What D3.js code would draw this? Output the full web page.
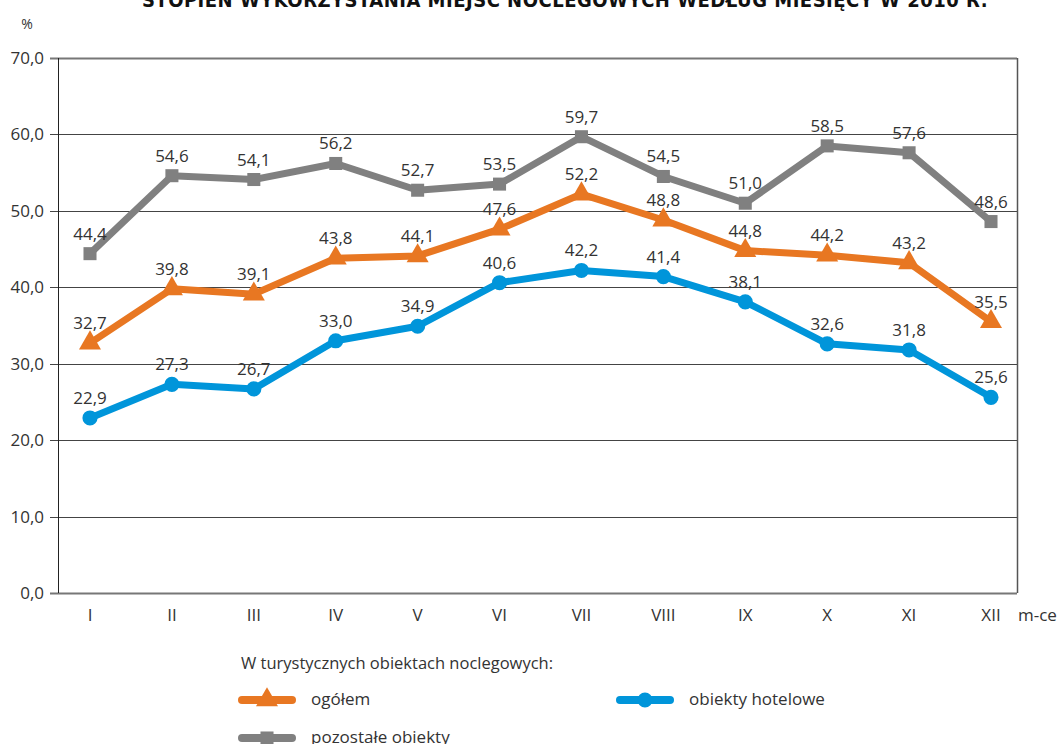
<!DOCTYPE html>
<html>
<head>
<meta charset="utf-8">
<script src="https://cdn.jsdelivr.net/npm/d3@7"></script>
<style>
  body { margin: 0; background: #fff; }
  svg text { font-family: "Open Sans", "Noto Sans", sans-serif; fill: #333; }
</style>
</head>
<body>
<div class="chart"></div>
<script>
const months = ["I", "II", "III", "IV", "V", "VI", "VII", "VIII", "IX", "X", "XI", "XII"];
const ogolem = [32.7, 39.8, 39.1, 43.8, 44.1, 47.6, 52.2, 48.8, 44.8, 44.2, 43.2, 35.5];
const hotelowe = [22.9, 27.3, 26.7, 33.0, 34.9, 40.6, 42.2, 41.4, 38.1, 32.6, 31.8, 25.6];
const pozostale = [44.4, 54.6, 54.1, 56.2, 52.7, 53.5, 59.7, 54.5, 51.0, 58.5, 57.6, 48.6];
const yTicks = [0, 10, 20, 30, 40, 50, 60, 70];

const width = 1057, height = 744;
const plot = { left: 58, right: 1017, top: 58, bottom: 593 };

const svg = d3.select(".chart").append("svg")
    .attr("width", width)
    .attr("height", height);

// title, mostly cut off at the top like in the source
svg.append("text")
    .attr("x", 565).attr("y", 7)
    .attr("text-anchor", "middle")
    .style("font-family", "'Liberation Sans Narrow', 'DejaVu Sans Condensed', sans-serif")
    .style("font-weight", "bold")
    .style("font-size", "20px")
    .style("letter-spacing", "0.5px")
    .style("fill", "#111")
    .text("STOPIEŃ WYKORZYSTANIA MIEJSC NOCLEGOWYCH WEDŁUG MIESIĘCY W 2010 R.");

const x = d3.scalePoint()
    .domain(months)
    .range([90, 991]);

const y = d3.scaleLinear()
    .domain([0, 70])
    .range([plot.bottom, plot.top]);

const fmt = v => d3.format(".1f")(v).replace(".", ",");

// grid lines
svg.append("g")
    .selectAll("line")
    .data(yTicks)
    .join("line")
    .attr("x1", plot.left - 8)
    .attr("x2", plot.right)
    .attr("y1", d => Math.round(y(d)) + 0.5)
    .attr("y2", d => Math.round(y(d)) + 0.5)
    .attr("stroke", d => (d === 0 || d === 70) ? "#777" : "#444")
    .attr("stroke-width", d => (d === 0 || d === 70) ? 2 : 1);

// left axis line and right border
svg.append("line")
    .attr("x1", plot.left + 0.5).attr("x2", plot.left + 0.5)
    .attr("y1", plot.top).attr("y2", plot.bottom)
    .attr("stroke", "#222");
svg.append("line")
    .attr("x1", plot.right + 0.5).attr("x2", plot.right + 0.5)
    .attr("y1", plot.top).attr("y2", plot.bottom)
    .attr("stroke", "#555").attr("stroke-width", 1.5);

// y tick labels
svg.append("g")
    .selectAll("text")
    .data(yTicks)
    .join("text")
    .attr("x", 44)
    .attr("y", d => y(d) + 6)
    .attr("text-anchor", "end")
    .style("font-size", "17px")
    .text(d => fmt(d));

svg.append("text")
    .attr("x", 27).attr("y", 29)
    .attr("text-anchor", "middle")
    .style("font-size", "14px")
    .text("%");

// x tick labels
svg.append("g")
    .selectAll("text")
    .data(months)
    .join("text")
    .attr("x", d => x(d))
    .attr("y", 621)
    .attr("text-anchor", "middle")
    .style("font-size", "17px")
    .text(d => d);

svg.append("text")
    .attr("x", 1018).attr("y", 621)
    .style("font-size", "17px")
    .text("m-ce");

const series = [
    { name: "pozostałe obiekty", values: pozostale, color: "#808080", shape: "square" },
    { name: "ogółem", values: ogolem, color: "#e87722", shape: "triangle" },
    { name: "obiekty hotelowe", values: hotelowe, color: "#0095da", shape: "circle" }
];

const symbolFor = s => {
    if (s === "square") return d3.symbol().type(d3.symbolSquare).size(170)();
    if (s === "triangle") return d3.symbol().type(d3.symbolTriangle).size(210)();
    return d3.symbol().type(d3.symbolCircle).size(180)();
};

const line = d3.line()
    .x((d, i) => x(months[i]))
    .y(d => y(d));

series.forEach(s => {
    const g = svg.append("g");
    g.append("path")
        .datum(s.values)
        .attr("d", line)
        .attr("fill", "none")
        .attr("stroke", s.color)
        .attr("stroke-width", 7)
        .attr("stroke-linejoin", "round");
    g.selectAll("path.mark")
        .data(s.values)
        .join("path")
        .attr("class", "mark")
        .attr("transform", (d, i) => `translate(${x(months[i])},${y(d)})`)
        .attr("d", symbolFor(s.shape))
        .attr("fill", s.color);
    g.selectAll("text")
        .data(s.values)
        .join("text")
        .attr("x", (d, i) => x(months[i]))
        .attr("y", d => y(d) - 14)
        .attr("text-anchor", "middle")
        .style("font-size", "17px")
        .text(d => fmt(d));
});

// legend
svg.append("text")
    .attr("x", 241).attr("y", 669)
    .style("font-size", "16.5px")
    .text("W turystycznych obiektach noclegowych:");

const legend = [
    { s: series[1], x: 239, y: 700 },
    { s: series[2], x: 617, y: 700 },
    { s: series[0], x: 239, y: 738 }
];
legend.forEach(l => {
    const g = svg.append("g");
    g.append("line")
        .attr("x1", l.x + 3).attr("x2", l.x + 53)
        .attr("y1", l.y).attr("y2", l.y)
        .attr("stroke", l.s.color)
        .attr("stroke-width", 8)
        .attr("stroke-linecap", "round");
    g.append("path")
        .attr("transform", `translate(${l.x + 28},${l.y})`)
        .attr("d", symbolFor(l.s.shape))
        .attr("fill", l.s.color);
    g.append("text")
        .attr("x", l.x + 72).attr("y", l.y + 5)
        .style("font-size", "17px")
        .text(l.s.name);
});
</script>
</body>
</html>
